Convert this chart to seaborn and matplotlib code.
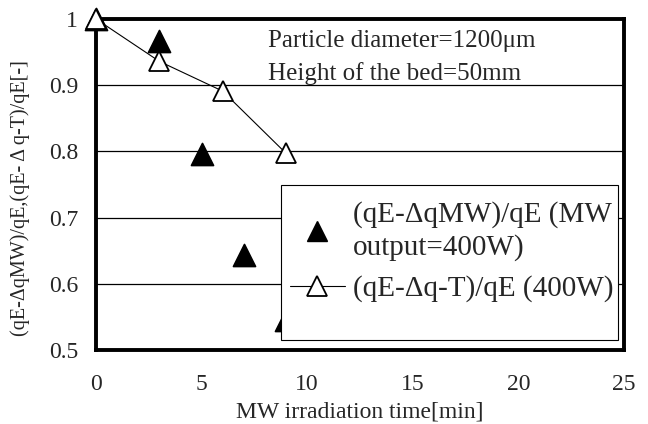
import matplotlib
matplotlib.use("Agg")
import matplotlib.pyplot as plt
import seaborn as sns
import pandas as pd
from matplotlib.lines import Line2D
from matplotlib.patches import Rectangle

sns.set_style("white")
plt.rcParams['font.family'] = ['Liberation Serif', 'DejaVu Serif']

# data
mw_time = [0, 3, 5, 7, 9]
mw_ratio = [1.0, 0.967, 0.796, 0.643, 0.545]
t_time = [0, 3, 6, 9]
t_ratio = [1.0, 0.936, 0.891, 0.797]

label_mw = "(qE-ΔqMW)/qE (MW\noutput=400W)"
label_t = "(qE-Δq-T)/qE (400W)"
xticks = [0, 5, 10, 15, 20, 25]
yticks = [0.5, 0.6, 0.7, 0.8, 0.9, 1.0]
ytick_labels = ["0.5", "0.6", "0.7", "0.8", "0.9", "1"]

df_mw = pd.DataFrame({"t": mw_time, "r": mw_ratio})
df_t = pd.DataFrame({"t": t_time, "r": t_ratio})

fig = plt.figure(figsize=(6.48, 4.24), dpi=100)
ax = fig.add_axes([96/648, 1 - 350/424, (624-96)/648, (350-19)/424])

for y in yticks[1:-1]:
    ax.axhline(y, color='black', lw=0.9, zorder=0)

sns.lineplot(data=df_t, x="t", y="r", ax=ax, color='black', lw=0.8,
             marker='^', markersize=14.5, markerfacecolor='white',
             markeredgecolor='black', markeredgewidth=1.3, zorder=3, clip_on=False)
sns.scatterplot(data=df_mw, x="t", y="r", ax=ax, marker='^', s=250,
                color='black', edgecolor='black', zorder=2, clip_on=False)

ax.set_xlim(0, 25)
ax.set_ylim(0.5, 1.0)
ax.set_xticks(xticks)
ax.set_xticklabels([str(x) for x in xticks], fontsize=17)
ax.set_yticks(yticks)
ax.set_yticklabels(ytick_labels, fontsize=17)
ax.tick_params(axis='x', direction='in', length=5, width=0.8, pad=17)
ax.tick_params(axis='y', direction='in', length=0, pad=13)
for s in ax.spines.values():
    s.set_linewidth(2.8)
    s.set_color('black')

ax.set_xlabel("MW irradiation time[min]", fontsize=17, labelpad=5)
ax.set_ylabel("(qE-ΔqMW)/qE,(qE- Δ q-T)/qE[-]", fontsize=14.5)
ax.yaxis.set_label_coords(-0.125, 0.458)

ax.text(8.15, 0.967, "Particle diameter=1200μm", fontsize=18, va='center')
ax.text(8.15, 0.917, "Height of the bed=50mm", fontsize=18, va='center')

# legend frame (Excel-style box with empty space at the bottom)
frame = Rectangle((0.350, 0.030), 0.989 - 0.350, 0.498 - 0.030,
                  transform=ax.transAxes, facecolor='white', edgecolor='black',
                  lw=0.8, zorder=4)
ax.add_patch(frame)

handles = [
    Line2D([], [], ls='none', marker='^', markersize=14.5, color='black'),
    Line2D([], [], ls='-', lw=0.8, color='black', marker='^', markersize=14.5,
           markerfacecolor='white', markeredgecolor='black', markeredgewidth=1.3),
]
leg = ax.legend(handles, [label_mw, label_t], loc='upper left',
                bbox_to_anchor=(0.350, 0.477), fontsize=21, frameon=False,
                handlelength=1.9, handletextpad=0.28, borderpad=0.3,
                labelspacing=0.5, borderaxespad=0)
leg.get_texts()[0].set_linespacing(1.3)
leg.set_zorder(5)

fig.savefig("out.png", dpi=100)
